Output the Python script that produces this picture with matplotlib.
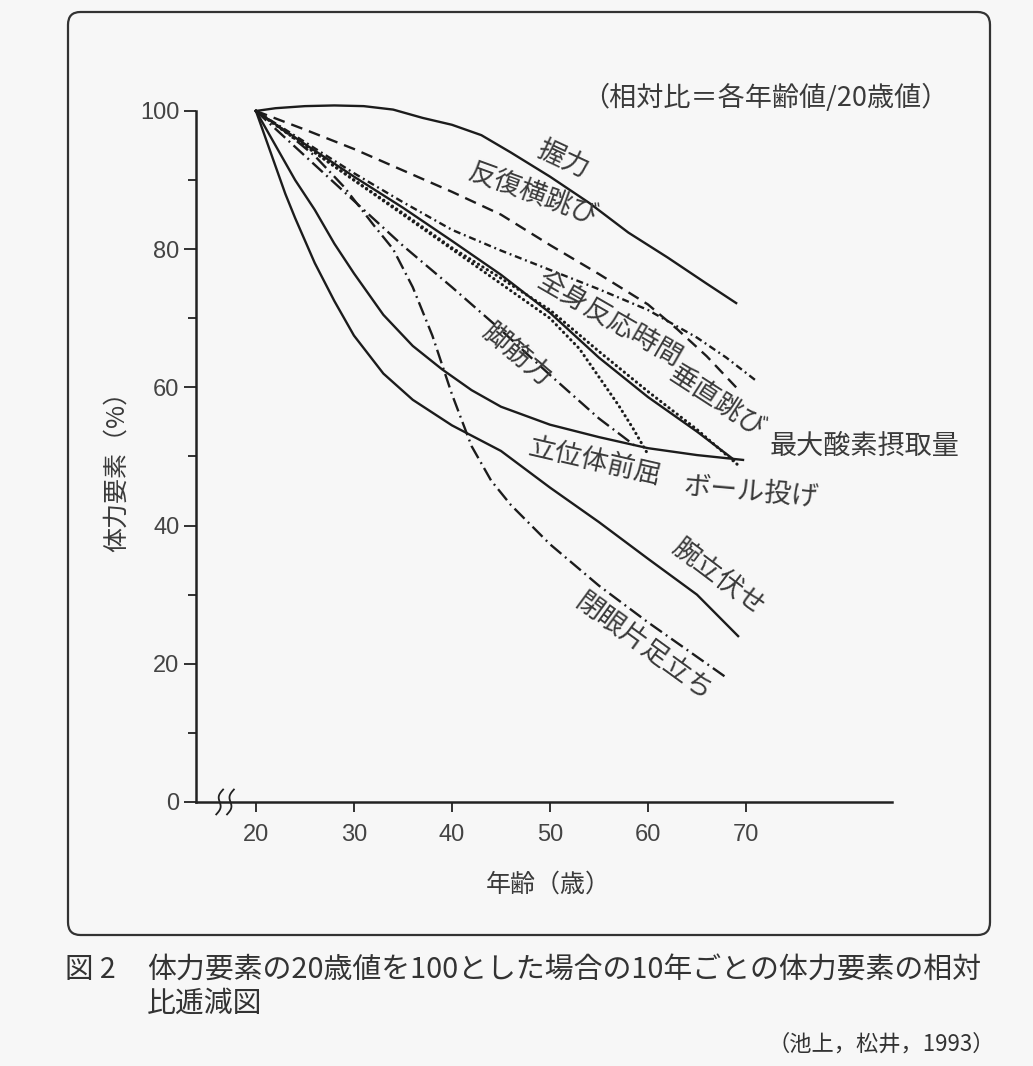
import numpy as np
import matplotlib.pyplot as plt
from matplotlib.patches import FancyBboxPatch

plt.rcParams['font.family'] = ['Noto Sans CJK JP', 'DejaVu Sans']

############## data ##############
# 年齢（歳） / 相対比（20歳値=100）

grip_age = [20, 22, 25, 28, 31, 34, 37, 40, 43, 46, 50, 54, 58, 62, 66, 69]
grip_val = [100, 100.4, 100.7, 100.8, 100.7, 100.2, 99.0, 98.0, 96.5, 94.0, 90.5, 86.7, 82.4, 78.8, 75.0, 72.2]

sidestep_age = [20, 25, 30, 35, 40, 45, 50, 55, 60, 63, 66, 69]
sidestep_val = [100, 97.3, 94.5, 91.4, 88.3, 85.0, 80.6, 76.4, 72.0, 68.4, 64.5, 60.0]

reaction_age = [20, 25, 30, 35, 40, 45, 50, 55, 60, 65, 68, 71]
reaction_val = [100, 95.5, 91.0, 86.8, 82.8, 79.8, 77.0, 74.2, 71.2, 67.2, 64.3, 61.0]

jump_age = [20, 25, 30, 35, 40, 45, 50, 55, 60, 65, 68.8]
jump_val = [100, 95.2, 90.5, 86.0, 81.2, 76.3, 70.8, 64.3, 58.6, 53.6, 49.5]

vo2_age = [20, 25, 30, 35, 40, 45, 50, 55, 60, 65, 69.4]
vo2_val = [100, 95.0, 90.0, 85.2, 80.2, 75.8, 71.2, 65.2, 59.4, 53.9, 48.5]

ball_age = [20, 25, 30, 35, 40, 45, 50, 53, 55, 57, 58.5, 60]
ball_val = [100, 95.0, 90.0, 85.0, 80.0, 75.0, 70.0, 65.6, 61.5, 57.4, 54.0, 50.3]

leg_age = [20, 25, 30, 35, 40, 45, 50, 55, 59]
leg_val = [100, 93.5, 87.0, 80.5, 74.5, 68.3, 61.8, 55.5, 51.2]

flex_age = [20, 21, 22, 24, 26, 28, 30, 33, 36, 39, 42, 45, 50, 55, 60, 65, 69.7]
flex_val = [100, 97.5, 95.0, 90.0, 85.7, 80.8, 76.5, 70.5, 66.0, 62.6, 59.6, 57.2, 54.6, 52.8, 51.2, 50.2, 49.5]

pushup_age = [20, 21, 22, 23, 24, 26, 28, 30, 33, 36, 40, 45, 50, 55, 60, 65, 69.2]
pushup_val = [100, 96.0, 92.0, 88.0, 84.5, 78.0, 72.5, 67.5, 62.0, 58.2, 54.5, 50.8, 45.5, 40.5, 35.2, 30.0, 24.0]

balance_age = [20, 23, 26, 29, 32, 34, 36, 38, 40, 42, 44, 46, 50, 55, 60, 64, 68]
balance_val = [100, 97.0, 93.5, 89.0, 83.5, 80.0, 74.5, 67.5, 59.0, 51.5, 46.5, 43.0, 37.3, 31.3, 26.0, 22.0, 18.0]

x_ticks = [20, 30, 40, 50, 60, 70]
y_ticks = [0, 20, 40, 60, 80, 100]
y_minor = [10, 30, 50, 70, 90]

############## figure ##############

fig = plt.figure(figsize=(10.33, 10.66), dpi=100)
fig.patch.set_facecolor('#f7f7f7')

# outer frame
frame = FancyBboxPatch((68 / 1033, 1 - 935 / 1066), (990 - 68) / 1033, (935 - 12) / 1066,
                       boxstyle='round,pad=0,rounding_size=0.012', transform=fig.transFigure,
                       fill=False, lw=1.6, ec='#333333')
fig.patches.append(frame)

ax = fig.add_axes([0.1897, 0.2477, 0.6738, 0.6482])
ax.set_facecolor('none')
ax.set_xlim(13.88, 84.9)
ax.set_ylim(0, 100)

for s in ['top', 'right']:
    ax.spines[s].set_visible(False)
for s in ['left', 'bottom']:
    ax.spines[s].set_linewidth(1.8)
    ax.spines[s].set_color('#222222')

ax.set_xticks(x_ticks)
ax.set_yticks(y_ticks)
ax.set_yticks(y_minor, minor=True)
ax.tick_params(axis='y', which='major', length=9, width=1.3, color='#222222', pad=3,
               labelsize=17, labelcolor='#444444')
ax.tick_params(axis='y', which='minor', length=6, width=1.3, color='#222222')
ax.tick_params(axis='x', which='major', length=7, width=1.3, color='#222222', pad=9,
               labelsize=17, labelcolor='#444444')
for lab in ax.get_xticklabels() + ax.get_yticklabels():
    lab.set_family('Liberation Sans')

# axis break marks
t = np.linspace(-1, 1, 30)
for x0 in [16.3, 17.4]:
    ax.plot(x0 + 0.35 * t - 0.25 * np.sin(np.pi * t), 1.8 * t, color='#222222', lw=1.3,
            clip_on=False)

ink = '#1c1c1c'
lw = 1.7
dot = dict(lw=2.2, dashes=(0.1, 1.6), dash_capstyle='round')
ax.plot(grip_age, grip_val, color=ink, lw=lw, clip_on=False)
ax.plot(sidestep_age, sidestep_val, color=ink, lw=lw, dashes=(5, 3), clip_on=False)
ax.plot(reaction_age, reaction_val, color=ink, lw=lw, dashes=(3, 1.6, 0.8, 1.6), clip_on=False)
ax.plot(jump_age, jump_val, color=ink, lw=lw, clip_on=False)
ax.plot(vo2_age, vo2_val, color=ink, clip_on=False, **dot)
ax.plot(ball_age, ball_val, color=ink, clip_on=False, **dot)
ax.plot(leg_age, leg_val, color=ink, lw=lw, dashes=(6, 2, 0.8, 2), clip_on=False)
ax.plot(flex_age, flex_val, color=ink, lw=lw, clip_on=False)
ax.plot(pushup_age, pushup_val, color=ink, lw=lw, clip_on=False)
ax.plot(balance_age, balance_val, color=ink, lw=lw, dashes=(6, 2, 0.8, 2), clip_on=False)

# curve labels
tc = '#3a3a3a'
fs = 19.5
ax.text(51.3, 92.9, '握力', fontsize=fs, color=tc, rotation=-25, ha='center', va='center')
ax.text(48.2, 87.8, '反復横跳び', fontsize=fs, color=tc, rotation=-20, ha='center', va='center')
ax.text(56.0, 69.8, '全身反応時間', fontsize=fs, color=tc, rotation=-30, ha='center', va='center')
ax.text(46.6, 64.8, '脚筋力', fontsize=fs, color=tc, rotation=-40, ha='center', va='center')
ax.text(67.0, 57.9, '垂直跳び', fontsize=fs, color=tc, rotation=-33, ha='center', va='center')
ax.text(72.4, 51.4, '最大酸素摂取量', fontsize=fs, color=tc, ha='left', va='center')
ax.text(54.6, 49.2, '立位体前屈', fontsize=fs, color=tc, rotation=-13, ha='center', va='center')
ax.text(70.5, 44.6, 'ボール投げ', fontsize=fs, color=tc, rotation=-5, ha='center', va='center')
ax.text(67.1, 32.4, '腕立伏せ', fontsize=fs, color=tc, rotation=-37, ha='center', va='center')
ax.text(59.5, 22.3, '閉眼片足立ち', fontsize=fs, color=tc, rotation=-36, ha='center', va='center')

fig.text(765 / 1033, 1 - 98 / 1066, '（相対比＝各年齢値/20歳値）', fontsize=19.5, color=tc,
         ha='center', va='center')
fig.text(117 / 1033, 1 - 465 / 1066, '体力要素（%）', fontsize=18, color=tc, rotation=90,
         ha='center', va='center')
fig.text(548 / 1033, 1 - 885 / 1066, '年齢（歳）', fontsize=18, color=tc, ha='center', va='center')

# caption
cc = '#333333'
fig.text(65 / 1033, 1 - 970 / 1066, '図 2', fontsize=20.5, color=cc, ha='left', va='center')
fig.text(147 / 1033, 1 - 970 / 1066, '体力要素の20歳値を100とした場合の10年ごとの体力要素の相対',
         fontsize=20.8, color=cc, ha='left', va='center')
fig.text(147 / 1033, 1 - 1004 / 1066, '比逓減図', fontsize=20.8, color=cc, ha='left', va='center')
fig.text(995 / 1033, 1 - 1044 / 1066, '（池上，松井，1993）', fontsize=16, color=cc,
         ha='right', va='center')

fig.savefig('out.png', dpi=100, facecolor=fig.get_facecolor())
